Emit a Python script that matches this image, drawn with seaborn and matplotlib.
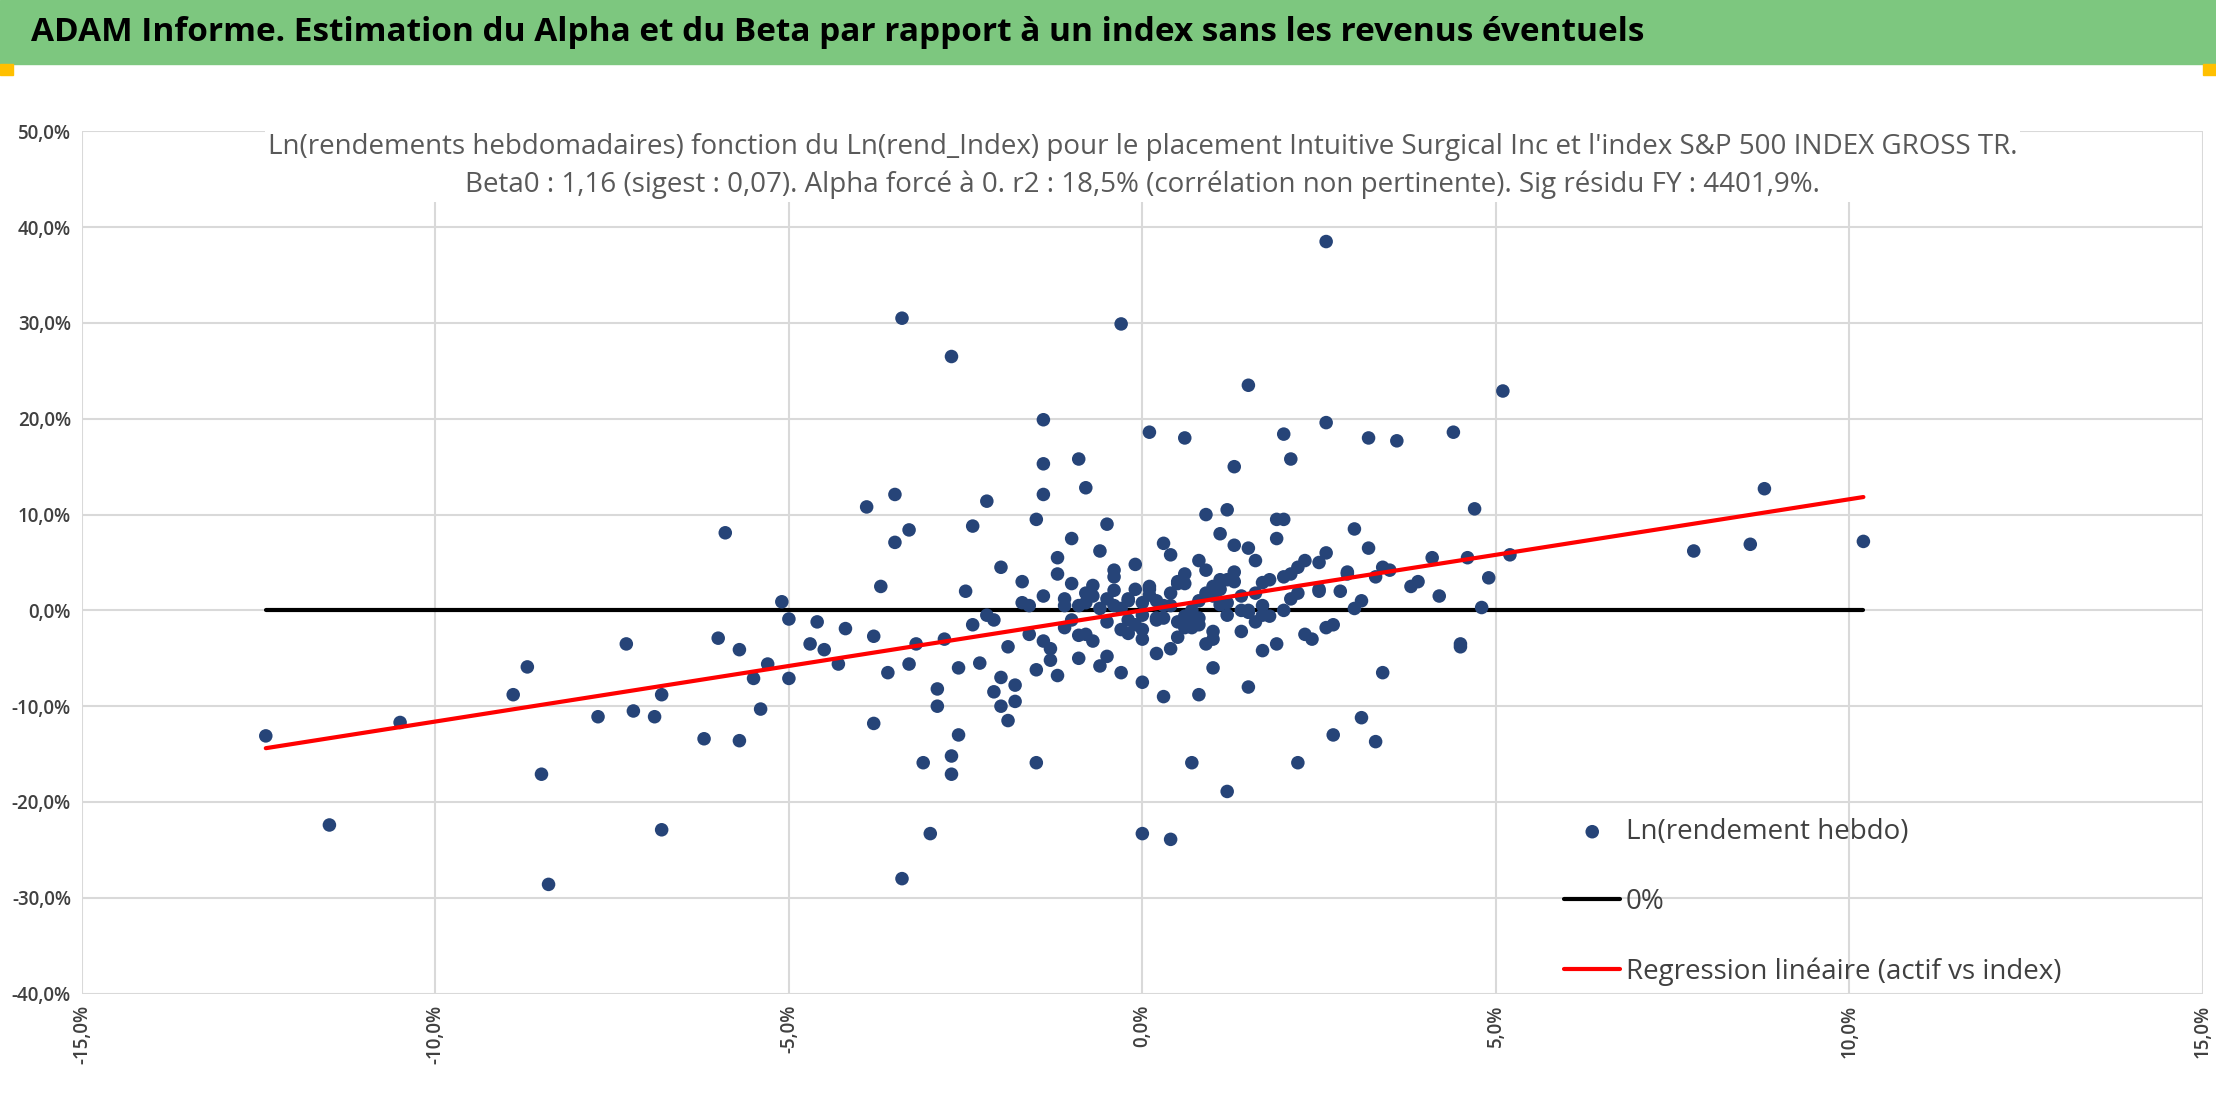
import matplotlib
matplotlib.use("Agg")
import matplotlib.pyplot as plt
import seaborn as sns
import numpy as np
import pandas as pd
from matplotlib.ticker import FuncFormatter

# --- DATA (weekly log returns, in %) ---
idx_outliers = [-12.4, -11.5, -10.5, -8.9, -8.7, -8.5, -8.4, -7.7, -7.3, -7.2, -6.9, -6.8, -6.8, -6.2, -6.0,
                -5.9, -5.7, -5.7, -5.5, -5.4, -5.3, -5.1, -5.0, -5.0, -4.7, -4.6, -4.5, -4.3, -4.2, -3.9,
                -3.8, -3.8, -3.7, -3.5, -3.5, -3.4, -3.4, -3.3, -3.3, -3.1, -3.0, -2.9, -2.7, -2.7, -2.7,
                -2.6, -2.4, -2.2, -2.0, -1.9, -1.5, -1.4, -1.4, -1.4, -0.9, -0.8, -0.3, 0.0, 0.4, 0.1,
                0.6, 0.7, 0.8, 1.2, 1.5, 1.3, 2.0, 2.1, 2.2, 2.6, 2.6, 2.7, 3.1, 3.2, 3.3, 3.4, 3.6,
                4.4, 4.7, 4.5, 4.5, 4.8, 4.9, 5.1, 5.2, 7.8, 8.6, 8.8, 10.2]
ret_outliers = [-13.1, -22.4, -11.7, -8.8, -5.9, -17.1, -28.6, -11.1, -3.5, -10.5, -11.1, -22.9, -8.8, -13.4, -2.9,
                8.1, -13.6, -4.1, -7.1, -10.3, -5.6, 0.9, -0.9, -7.1, -3.5, -1.2, -4.1, -5.6, -1.9, 10.8,
                -2.7, -11.8, 2.5, 7.1, 12.1, 30.5, -28.0, 8.4, -5.6, -15.9, -23.3, -10.0, 26.5, -17.1, -15.2,
                -13.0, 8.8, 11.4, -10.0, -11.5, -15.9, 19.9, 15.3, 12.1, 15.8, 12.8, 29.9, -23.3, -23.9, 18.6,
                18.0, -15.9, -8.8, -18.9, 23.5, 15.0, 18.4, 15.8, -15.9, 38.5, 19.6, -13.0, -11.2, 18.0, -13.7, -6.5, 17.7,
                18.6, 10.6, -3.5, -3.8, 0.3, 3.4, 22.9, 5.8, 6.2, 6.9, 12.7, 7.2]

idx_cloud = [-2.8, -2.5, -2.3, -2.1, -2.0, -1.8, -1.7, -1.6, -1.5, -1.4, -1.3, -1.2, -1.1, -1.0, -0.9,
             -0.8, -0.7, -0.6, -0.5, -0.4, -0.3, -0.2, -0.1, 0.0, 0.1, 0.2, 0.3, 0.4, 0.5, 0.6,
             0.7, 0.8, 0.9, 1.0, 1.1, 1.2, 1.3, 1.4, 1.5, 1.6, 1.7, 1.8, 1.9, 2.0, 2.2, 2.4, 2.6, 2.8, 3.0, 3.3,
             -2.6, -2.2, -1.9, -1.6, -1.3, -1.1, -0.9, -0.7, -0.5, -0.3, -0.1, 0.1, 0.3, 0.5, 0.7,
             0.9, 1.1, 1.3, 1.5, 1.7, 1.9, 2.1, 2.3, 2.5, 2.7, 2.9, 3.1, 3.5, 3.8, 4.1,
             -2.4, -2.0, -1.7, -1.4, -1.2, -1.0, -0.8, -0.6, -0.4, -0.2, 0.0, 0.2, 0.4, 0.6, 0.8,
             1.0, 1.2, 1.4, 1.6, 1.8, 2.0, 2.3, 2.6, 2.9, 3.2, -0.5, 0.3, 0.9, 1.5, -1.5,
             -3.6, -3.2, -2.9, 3.9, 4.2, 4.6, -1.0, 0.0, 1.0, 2.0, -0.6, 0.6, 1.4, -0.2, 0.8,
             -1.8, -1.2, -0.4, 0.4, 1.2, 1.9, 2.5, 3.0, -2.1, 3.4, -0.9, 0.2, 1.1, 1.7, 2.2,
             -0.7, -0.3, 0.1, 0.5, 0.9, 1.3, 1.7, 2.1, 2.5, -1.1, -0.5, 0.0, 0.5, 1.0, 1.5,
             -0.2, 0.2, 0.7, 1.1, 1.6, -0.8, -0.1, 0.4, 0.8, 1.2, 0.0, 0.6, 1.0, -0.4, 0.3]
ret_cloud = [-3.0, 2.0, -5.5, -1.0, 4.5, -7.8, 3.0, -2.5, -6.2, 1.5, -4.0, 5.5, -1.8, 2.8, -5.0,
             0.8, -3.2, 6.2, -1.2, 3.5, -6.5, 1.0, 4.8, -2.0, 2.2, -4.5, 7.0, 0.5, -2.8, 3.8,
             -1.0, 5.2, -3.5, 2.5, 8.0, -0.5, 4.0, -2.2, 6.5, 1.8, -4.2, 3.2, 7.5, 0.0, 4.5, -3.0, 6.0, 2.0, 8.5, 3.5,
             -6.0, -0.5, -3.8, 0.5, -5.2, 1.2, -2.6, 2.6, -4.8, 0.2, -1.5, 1.6, -0.8, 3.0, -1.8,
             4.2, 0.6, 6.8, -0.2, 2.9, 9.5, 1.2, -2.5, 5.0, -1.5, 3.8, 1.0, 4.2, 2.5, 5.5,
             -1.5, -7.0, 0.8, -3.2, 3.8, -1.0, 1.8, -5.8, 2.1, -2.4, 0.8, -0.8, 5.8, -0.6, 1.0,
             -3.0, 3.2, 0.0, 5.2, -0.6, 3.5, 5.2, -1.8, 4.0, 6.5, 9.0, -9.0, 10.0, -8.0, 9.5,
             -6.5, -3.5, -8.2, 3.0, 1.5, 5.5, 7.5, -7.5, -6.0, 9.5, 0.2, 2.8, 1.5, 1.2, -1.5,
             -9.5, -6.8, 4.2, -4.0, 10.5, -3.5, 2.0, 0.2, -8.5, 4.5, 0.5, -1.0, 2.2, 0.5, 1.8,
             1.5, -2.0, 2.5, -1.2, 1.8, 3.0, -0.5, 3.8, 2.2, 0.5, 1.2, -3.0, 2.8, -2.2, 0.0,
             -1.0, 1.0, 0.0, 3.2, -1.2, -2.5, 2.2, 1.8, -0.8, 0.8, -0.5, -1.8, 1.5, 0.5, 0.5]

beta = 1.16
x_idx = np.array(idx_outliers + idx_cloud) / 100
y_ret = np.array(ret_outliers + ret_cloud) / 100
df = pd.DataFrame({"Index": x_idx, "Actif": y_ret})

x_line = np.array([df["Index"].min(), df["Index"].max()])

# --- PLOT ---
sns.set_theme(style="whitegrid")
plt.rcParams['font.family'] = ['Open Sans', 'DejaVu Sans']

fig = plt.figure(figsize=(22.16, 11.04), dpi=100)
ax = fig.add_axes([0.037, 0.10, 0.957, 0.781])

ax.plot(x_line, [0, 0], color='black', lw=3, label='0%', zorder=2)
ax.plot(x_line, beta * x_line, color='red', lw=3, label='Regression linéaire (actif vs index)', zorder=4)
sns.scatterplot(data=df, x="Index", y="Actif", ax=ax, color='#264478', s=95, edgecolor='none',
                label='Ln(rendement hebdo)', zorder=3)

ax.set_xlim(-0.15, 0.15)
ax.set_ylim(-0.40, 0.50)
ax.set_xticks(np.arange(-0.15, 0.151, 0.05))
ax.set_yticks(np.arange(-0.40, 0.501, 0.10))
pct = FuncFormatter(lambda v, p: f"{v*100:.1f}%".replace('.', ',').replace('-0,0', '0,0'))
ax.xaxis.set_major_formatter(pct)
ax.yaxis.set_major_formatter(pct)
ax.tick_params(axis='x', labelrotation=90, labelsize=13.5, colors='#404040', pad=2)
ax.tick_params(axis='y', labelsize=13.5, colors='#404040', pad=2)
for lab in ax.get_xticklabels() + ax.get_yticklabels():
    lab.set_fontweight('semibold')
ax.set_xlabel('')
ax.set_ylabel('')
ax.grid(color='#d9d9d9', lw=1.5)
for s in ax.spines.values():
    s.set_visible(False)

ax.set_title("Ln(rendements hebdomadaires) fonction du Ln(rend_Index) pour le placement Intuitive Surgical Inc et l'index S&P 500 INDEX GROSS TR.\n"
             "Beta0 : 1,16 (sigest : 0,07). Alpha forcé à 0. r2 : 18,5% (corrélation non pertinente). Sig résidu FY : 4401,9%.",
             fontsize=20, color='#595959', y=0.92, linespacing=1.45,
             bbox=dict(facecolor='white', edgecolor='none', pad=2))

handles, labels = ax.get_legend_handles_labels()
order = [labels.index('Ln(rendement hebdo)'), labels.index('0%'),
         labels.index('Regression linéaire (actif vs index)')]
ax.legend([handles[i] for i in order], [labels[i] for i in order], loc='lower right',
          bbox_to_anchor=(0.945, -0.02), frameon=False, fontsize=20, labelspacing=1.5,
          handlelength=2, handletextpad=0.2, markerscale=1.0)
for t in ax.get_legend().get_texts():
    t.set_color('#404040')

# header bar
fig.patches.append(plt.Rectangle((0, 0.942), 1, 0.058, transform=fig.transFigure,
                                 color='#7dc77f', zorder=0))
fig.patches.append(plt.Rectangle((0, 0.932), 0.006, 0.01, transform=fig.transFigure,
                                 color='#ffc000', zorder=1))
fig.patches.append(plt.Rectangle((0.994, 0.932), 0.006, 0.01, transform=fig.transFigure,
                                 color='#ffc000', zorder=1))
fig.text(0.014, 0.971, "ADAM Informe. Estimation du Alpha et du Beta par rapport à un index sans les revenus éventuels",
         fontsize=24, fontweight='bold', color='black', va='center')

fig.savefig("out.png", dpi=100)
